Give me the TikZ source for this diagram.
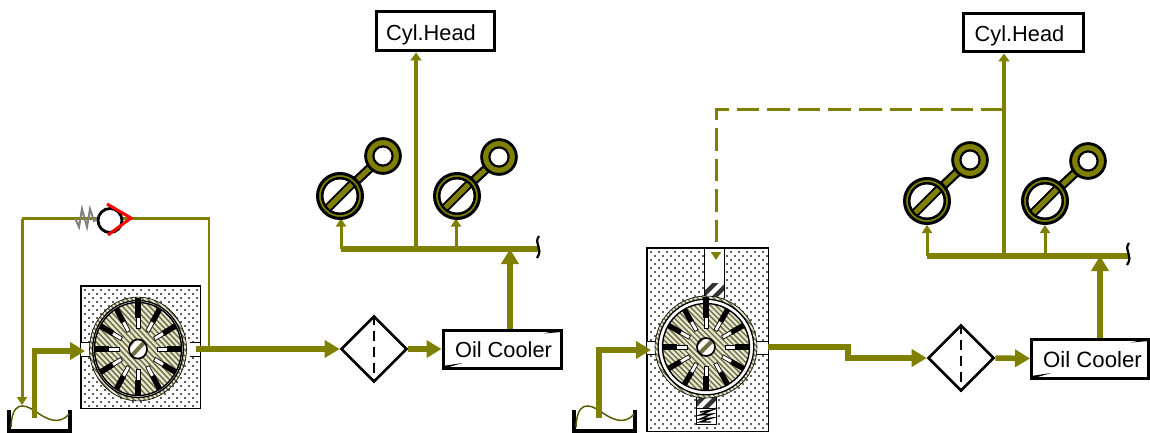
\documentclass[tikz,border=0pt]{standalone}
\usepackage{fontspec}
\setmainfont{Liberation Sans}
\usetikzlibrary{arrows.meta,shapes.geometric}
\definecolor{oil}{HTML}{808000}
\definecolor{pale}{HTML}{E6E6D2}
\definecolor{hatchdark}{HTML}{6E6E40}
\tikzset{
  x=1pt,y=-1pt,
  thickpipe/.style={oil,line width=5.5pt,-{Triangle[length=15pt,width=17pt]}},
  plainpipe/.style={oil,line width=5.5pt},
  railpipe/.style={oil,line width=6.6pt},
  thinpipe/.style={oil,line width=3pt,-{Triangle[length=8pt,width=10pt]}},
  headpipe/.style={oil,line width=3.6pt,-{Triangle[length=8pt,width=11pt]}},
  bypass/.style={oil,line width=2.8pt},
  pilot/.style={oil,line width=3pt,dash pattern=on 22.7pt off 7.9pt},
  labelbox/.style={draw=black,fill=white,line width=3pt,inner sep=0pt,text=black,font=\fontsize{21.8}{24}\selectfont},
  filterbox/.style={draw=black,fill=white,line width=2.6pt,diamond,aspect=1,minimum size=66pt,inner sep=0pt},
  filterdash/.style={black,line width=2.4pt,dash pattern=on 10pt off 6pt},
  housing/.style={draw=black,fill=white,line width=1pt,inner sep=0pt},
  tankline/.style={black,line width=3.4pt},
  wave/.style={oil!70!black,line width=1.5pt},
}
% dotted fill of a pump housing, clipped to a rectangle
\newcommand{\dotarea}[4]{%
  \begin{scope}
    \clip (#1,#2) rectangle (#3,#4);
    \foreach \i in {0,...,16}{\foreach \j in {0,...,24}{
      \fill[black!85] ({#1+4+8*\i},{#2+4+8*\j}) circle (1.1);
      \fill[black!85] ({#1+8+8*\i},{#2+8+8*\j}) circle (1.1);
    }}
  \end{scope}}
% striped fill of the current clip, around a centre
\newcommand{\stripes}[3]{%
  \fill[hatchdark] ({#1-#3},{#2-#3}) rectangle ({#1+#3},{#2+#3});
  \foreach \k in {-20,...,20}{
    \draw[pale,line width=2.2pt] ({#1+\k*5.4-#3},{#2-#3}) -- ({#1+\k*5.4+#3},{#2+#3});
  }}
\newcommand{\stripesup}[3]{%
  \fill[black!80] ({#1-#3},{#2-#3}) rectangle ({#1+#3},{#2+#3});
  \foreach \k in {-6,...,6}{
    \draw[white,line width=4.5pt] ({#1+\k*13-#3+1},{#2+#3}) -- ({#1+\k*13+#3+1},{#2-#3});
  }}
% rotor with vanes; #3 is the vertical stretch, #4 stator radius
\newcommand{\rotor}[4]{%
  \begin{scope}[shift={(#1,#2)},yscale=#3]
    \begin{scope}\clip (0,0) circle (#4);\stripes{0}{0}{60}\end{scope}
    \draw[black,line width=.6pt] (0,0) circle (#4);
    \fill[white] (0,0) circle ({#4-3.2});
    \draw[black,line width=1.3pt] (0,0) circle ({#4-3.2});
    \begin{scope}\clip (0,0) circle (43.5);\stripes{0}{0}{60}\end{scope}
    \draw[black,line width=1.4pt] (0,0) circle (43.5);
    \foreach \a in {0,30,...,330}{
      \begin{scope}[rotate=\a]
        \fill[white,draw=black,line width=.7pt] (19,-1.9) rectangle (31,1.9);
        \fill[black] (29,-2.7) rectangle (43.5,2.7);
      \end{scope}}
    \fill[black] (-2.7,-{#4+.5}) rectangle (2.7,-35);
    \begin{scope}\clip (0,0) circle (9);
      \fill[white] (-10,-10) rectangle (10,10);
      \draw[hatchdark,line width=4pt] (-10,10) -- (10,-10);
      \draw[hatchdark,line width=3pt] (-12,1) -- (-1,-12);
    \end{scope}
    \draw[black,line width=1.7pt] (0,0) circle (9);
  \end{scope}}
% gear and link of a rocker symbol: big centre, small centre
\newcommand{\rocker}[4]{%
  \draw[black,line width=9.5pt] (#1,#2) -- (#3,#4);
  \draw[oil,line width=5pt] (#1,#2) -- (#3,#4);
  \fill[oil,draw=black,line width=3pt] (#1,#2) circle (22.5);
  \fill[white,draw=black,line width=2.2pt] (#1,#2) circle (17.8);
  \begin{scope}\clip (#1,#2) circle (17.8);
    \draw[black,line width=9pt] ({#1-20},{#2+20}) -- ({#1+20},{#2-20});
    \draw[oil,line width=5pt] ({#1-20},{#2+20}) -- ({#1+20},{#2-20});
  \end{scope}
  \draw[black,line width=2.2pt] (#1,#2) circle (17.8);
  \fill[oil,draw=black,line width=2.8pt] (#3,#4) circle (17.4);
  \fill[white,draw=black,line width=2.2pt] (#3,#4) circle (9.6);}
% small corner wedges of a cooler box
\newcommand{\wedges}[1]{%
  \fill[black] ([xshift=-1pt,yshift=-.5pt]#1.north east) -- ++(-18,4.5) -- ++(18,-1.5) -- cycle;
  \fill[black] ([xshift=1pt,yshift=.5pt]#1.south west) -- ++(20,-6) -- ++(-20,3) -- cycle;}
\newcommand{\breakmark}[2]{%
  \draw[black,line width=2.2pt] ({#1+1},{#2-13}) .. controls ({#1-5},{#2-5}) and ({#1+6},{#2-1}) .. ({#1-1},{#2+9});}
\newcommand{\tanksym}[2]{% left edge, top edge
  \draw[tankline] (#1,#2) -- (#1,{#2+21}) -- ({#1+61},{#2+21}) -- ({#1+61},#2);
  \draw[wave] ({#1+2},{#2+17}) .. controls ({#1+3},{#2-8}) and ({#1+14},{#2-7}) .. ({#1+26},{#2+1}) .. controls ({#1+37},{#2+9}) and ({#1+50},{#2+16}) .. ({#1+60},{#2+4});}
\begin{document}
\begin{tikzpicture}
\useasboundingbox (0,0) rectangle (1150,433);

% ========= LEFT CIRCUIT =========
\node[labelbox,minimum width=118pt,minimum height=39pt] (headL) at (435,31.5) {\hspace*{-8pt}\raisebox{-9.3pt}[0pt][0pt]{Cyl.Head}};
\node[labelbox,minimum width=118pt,minimum height=38pt] (coolL) at (502,349) {\hspace*{3pt}\raisebox{-8pt}[0pt][0pt]{Oil Cooler}};
\wedges{coolL}
\node[filterbox] (filtL) at (374,349) {};
\draw[filterdash] (filtL.north) -- (filtL.south);
\node[housing,minimum width=119pt,minimum height=122pt] (pumpL) at (140.5,347) {};
\dotarea{81}{286}{200}{408}
\draw[black,line width=1pt] (pumpL.south west) rectangle (pumpL.north east);
\fill[white] (81,342) rectangle (95,356);
\fill[white] (182,342) rectangle (200,356);
\rotor{138}{349}{1.07}{48.5}
\draw[black,line width=.8pt] (81,342) -- (90,342) (81,356) -- (90,356) (190,342) -- (200,342) (190,356) -- (200,356);

% tank
\coordinate (tankL) at (34.5,418);
\tanksym{9}{410}

% pipes
\coordinate (railLa) at (341,249);
\coordinate (railLb) at (538,249);
\coordinate (railLc) at (416,249);
\coordinate (railLd) at (456,249);
\coordinate (railLe) at (510,249);
\draw[thickpipe] (tankL) |- (85,351);
\draw[thickpipe] (196,349) -- (filtL.west);
\draw[thickpipe] (filtL.east) -- (coolL.west);
\draw[railpipe] (railLa) -- (railLb);
\draw[thickpipe] (coolL.north -| railLe) -- (railLe);
\draw[headpipe] (railLc) -- (headL.south -| railLc);
\coordinate (bypassR) at (209,349);
\coordinate (bypassTR) at (209,218.5);
\coordinate (bypassTL) at (22,218.5);
\coordinate (bypassE) at (22,405);
\draw[bypass] (bypassR) -- (bypassTR) -- (bypassTL);
\draw[thinpipe] (bypassTL) -- (bypassE);
\draw[thinpipe] (railLa) -- (341,218.5);
\draw[thinpipe] (railLd) -- (456,218.5);
\breakmark{538}{249}

% check valve
\draw[gray,line width=2pt] (75,218) -- (79,227) -- (82,209) -- (87,227) -- (90,209) -- (94,221) -- (98,218);
\fill[white,draw=black,line width=2.8pt] (110,220.5) circle (12);
\draw[red,line width=3pt] (107,204) -- (131,218) -- (108,235);

\rocker{340}{196}{383}{156}
\rocker{457}{196}{499}{157}

% ========= RIGHT CIRCUIT =========
\node[labelbox,minimum width=120pt,minimum height=38pt] (headR) at (1023.5,33) {\hspace*{-8pt}\raisebox{-8.8pt}[0pt][0pt]{Cyl.Head}};
\node[labelbox,minimum width=117pt,minimum height=39pt] (coolR) at (1090,358.5) {\hspace*{5pt}\raisebox{-9.3pt}[0pt][0pt]{\fontsize{22.2}{24}\selectfont Oil Cooler}};
\wedges{coolR}
\node[filterbox] (filtR) at (961,358) {};
\draw[filterdash] (filtR.north) -- (filtR.south);
\node[housing,minimum width=121pt,minimum height=183pt] (pumpR) at (707.5,339.5) {};
\dotarea{647}{248}{768}{431}
\draw[black,line width=1pt] (pumpR.south west) rectangle (pumpR.north east);
% control slot and pistons
\fill[white,draw=black,line width=.8pt] (704.5,248) rectangle (724.5,284);
\begin{scope}\clip (704.5,283) rectangle (724.5,298);\stripesup{714}{290}{30}\end{scope}
\draw[black,line width=.8pt] (704.5,283) -- (704.5,298) (724.5,283) -- (724.5,298);
\begin{scope}\clip (696,392) rectangle (716,408);\stripesup{706}{400}{30}\end{scope}
\fill[white,draw=black,line width=.8pt] (696,408) rectangle (716,424);
\draw[black,line width=.8pt] (696,392) -- (696,408) (716,392) -- (716,408);
\draw[black,line width=1.4pt] (700,412) -- (712,410) -- (700,415) -- (712,414) -- (700,419) -- (712,418) -- (700,422) -- (711,422);
\fill[white] (647,341) rectangle (660,354);
\fill[white] (752,341) rectangle (768,354);
\rotor{706}{347}{1}{51}
\draw[black,line width=.8pt] (647,341) -- (655,341) (647,354) -- (655,354) (757,341) -- (768,341) (757,354) -- (768,354);

% tank
\coordinate (tankR) at (599,418);
\tanksym{574}{410}

% pipes
\coordinate (railRa) at (927,256);
\coordinate (railRb) at (1128,256);
\coordinate (railRc) at (1004,256);
\coordinate (railRd) at (1045,256);
\coordinate (railRe) at (1100,256);
\coordinate (jogA) at (848,347);
\coordinate (jogB) at (848,358);
\coordinate (pilotA) at (1004,110);
\coordinate (pilotB) at (716,110);
\coordinate (pilotC) at (716,241.5);
\coordinate (pilotD) at (716,252);
\coordinate (pilotE) at (716,260);
\draw[thickpipe] (tankR) |- (651,350);
\draw[plainpipe] (768,347) -- (jogA) -- (jogB);
\draw[thickpipe] (845.2,358) -- (filtR.west);
\draw[thickpipe] (filtR.east) -- (coolR.west);
\draw[railpipe] (railRa) -- (railRb);
\draw[thickpipe] (coolR.north -| railRe) -- (railRe);
\draw[headpipe] (railRc) -- (headR.south -| railRc);
\draw[pilot] (pilotA) -- (pilotB) -- (pilotC);
\draw[thinpipe] (pilotD) -- (pilotE);
\draw[thinpipe] (railRa) -- (927,225);
\draw[thinpipe] (railRd) -- (1045,225);
\breakmark{1128}{256}

\rocker{927}{201}{970}{160}
\rocker{1045}{201}{1088}{161}
\end{tikzpicture}
\end{document}
